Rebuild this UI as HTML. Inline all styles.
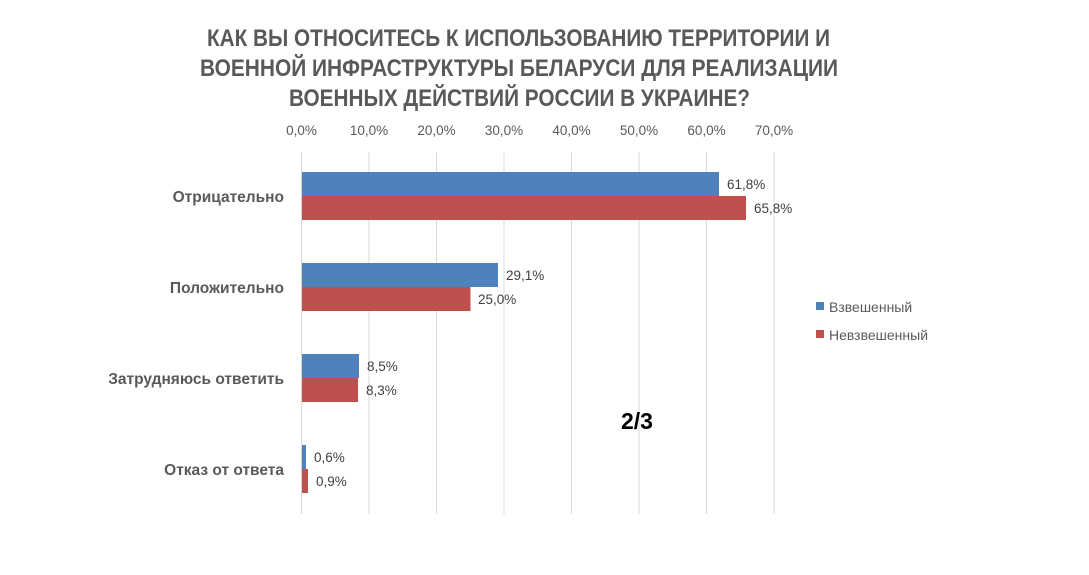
<!DOCTYPE html>
<html><head><meta charset="utf-8"><style>body{margin:0;background:#fff}svg{display:block}</style></head>
<body>
<svg width="1089" height="575" xmlns="http://www.w3.org/2000/svg" font-family="'Liberation Sans', sans-serif">
<rect width="1089" height="575" fill="#fff"/>
<g font-weight="bold" font-size="24" fill="#595959" text-anchor="middle">
<text x="518.5" y="46" textLength="623" lengthAdjust="spacingAndGlyphs">КАК ВЫ ОТНОСИТЕСЬ К ИСПОЛЬЗОВАНИЮ ТЕРРИТОРИИ И</text>
<text x="519" y="76" textLength="638" lengthAdjust="spacingAndGlyphs">ВОЕННОЙ ИНФРАСТРУКТУРЫ БЕЛАРУСИ ДЛЯ РЕАЛИЗАЦИИ</text>
<text x="519.5" y="106" textLength="461" lengthAdjust="spacingAndGlyphs">ВОЕННЫХ ДЕЙСТВИЙ РОССИИ В УКРАИНЕ?</text>
</g>
<g stroke="#d9d9d9" stroke-width="1">
<line x1="301.5" y1="152" x2="301.5" y2="514"/><line x1="369" y1="152" x2="369" y2="514"/>
<line x1="436.5" y1="152" x2="436.5" y2="514"/><line x1="504" y1="152" x2="504" y2="514"/>
<line x1="571.5" y1="152" x2="571.5" y2="514"/><line x1="639" y1="152" x2="639" y2="514"/>
<line x1="706.5" y1="152" x2="706.5" y2="514"/><line x1="774" y1="152" x2="774" y2="514"/>
</g>
<g font-size="13.5" fill="#595959" text-anchor="middle">
<text x="301.5" y="135">0,0%</text><text x="369" y="135">10,0%</text><text x="436.5" y="135">20,0%</text>
<text x="504" y="135">30,0%</text><text x="571.5" y="135">40,0%</text><text x="639" y="135">50,0%</text>
<text x="706.5" y="135">60,0%</text><text x="774" y="135">70,0%</text>
</g>
<g>
<rect x="302" y="172" width="417" height="24" fill="#4f81bd"/>
<rect x="302" y="196" width="444" height="24" fill="#c0504d"/>
<rect x="302" y="263" width="196" height="24" fill="#4f81bd"/>
<rect x="302" y="287" width="168.5" height="24" fill="#c0504d"/>
<rect x="302" y="354" width="57" height="24" fill="#4f81bd"/>
<rect x="302" y="378" width="56" height="24" fill="#c0504d"/>
<rect x="302" y="445" width="4" height="24" fill="#4f81bd"/>
<rect x="302" y="469" width="6" height="24" fill="#c0504d"/>
</g>
<g font-size="13.5" fill="#404040">
<text x="727" y="189">61,8%</text><text x="754" y="213">65,8%</text>
<text x="506" y="280">29,1%</text><text x="478" y="304">25,0%</text>
<text x="367" y="371">8,5%</text><text x="366" y="395">8,3%</text>
<text x="314" y="462">0,6%</text><text x="316" y="486">0,9%</text>
</g>
<g font-size="15.5" font-weight="bold" fill="#595959" text-anchor="end">
<text x="284" y="202">Отрицательно</text>
<text x="284" y="293">Положительно</text>
<text x="284" y="384">Затрудняюсь ответить</text>
<text x="284" y="475">Отказ от ответа</text>
</g>
<rect x="816" y="302" width="8" height="8" fill="#4f81bd"/>
<rect x="816" y="330" width="8" height="8" fill="#c0504d"/>
<g font-size="14" fill="#595959">
<text x="829" y="312">Взвешенный</text>
<text x="829" y="340">Невзвешенный</text>
</g>
<text x="637" y="429" font-size="23" font-weight="bold" fill="#000" text-anchor="middle">2/3</text>
</svg>
</body></html>
